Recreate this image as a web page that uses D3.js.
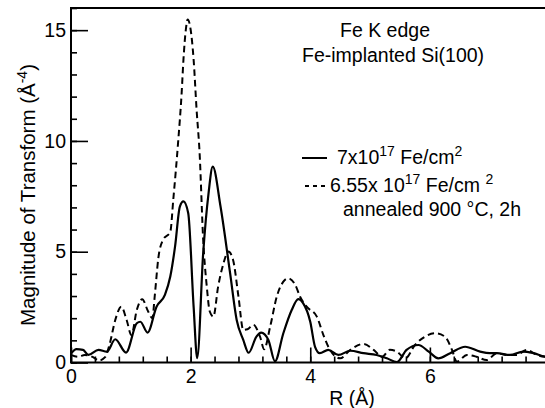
<!DOCTYPE html>
<html>
<head>
<meta charset="utf-8">
<script src="https://cdn.jsdelivr.net/npm/d3@7"></script>
<style>
  body { margin: 0; background: #fff; }
  svg { display: block; font-family: "Liberation Sans", Arial, sans-serif; }
</style>
</head>
<body>
<svg id="chart" width="545" height="408"></svg>
<script>
// R (Å) and magnitude values
const rSolid = [0, 0.09, 0.2, 0.29, 0.46, 0.6, 0.74, 0.92, 1.1, 1.16, 1.28, 1.43, 1.57, 1.66, 1.74, 1.82, 1.88, 1.96,
  2.05, 2.11, 2.21, 2.3, 2.37, 2.5, 2.66, 2.77, 2.88, 2.97, 3.1, 3.18, 3.3, 3.41, 3.55, 3.69, 3.8, 3.88, 4.0,
  4.08, 4.16, 4.3, 4.47, 4.67, 4.89, 5.11, 5.28, 5.45, 5.61, 5.81, 5.98, 6.14, 6.34, 6.59, 6.84, 7.0, 7.12,
  7.34, 7.56, 7.73, 7.93, 8.0];
const vSolid = [0.4, 0.6, 0.57, 0.34, 0.57, 0.49, 1.05, 0.45, 1.77, 1.84, 1.35, 2.52, 3.05, 3.88, 5.24, 7.04, 7.27, 6.74,
  2.52, 0.2, 4.94, 7.65, 8.84, 7.04, 4.03, 1.92, 1.02, 0.44, 1.17, 1.35, 1.02, 0.05, 1.32, 2.37, 2.86, 2.68, 1.84,
  0.71, 0.42, 0.57, 0.34, 0.53, 0.42, 0.34, 0.19, 0.02, 0.57, 0.79, 0.49, 0.19, 0.42, 0.71, 0.49, 0.42, 0.42,
  0.34, 0.49, 0.42, 0.26, 0.25];

const rDashed = [0, 0.12, 0.23, 0.4, 0.46, 0.57, 0.65, 0.74, 0.84, 0.93, 1.01, 1.1, 1.19, 1.29, 1.36, 1.4, 1.46, 1.54,
  1.66, 1.71, 1.79, 1.85, 1.88, 1.92, 1.95, 2.0, 2.05, 2.1, 2.15, 2.21, 2.27, 2.32, 2.38, 2.46, 2.55, 2.63, 2.71,
  2.8, 2.88, 2.95, 3.05, 3.16, 3.23, 3.33, 3.44, 3.55, 3.63, 3.75, 3.83, 3.94, 4.11, 4.22, 4.33, 4.5, 4.67, 4.89,
  5.06, 5.2, 5.33, 5.45, 5.59, 5.75, 5.92, 6.09, 6.25, 6.37, 6.45, 6.62, 6.78, 6.95, 7.12, 7.29, 7.45, 7.62,
  7.79, 7.93, 8.0];
const vDashed = [0.34, 0.26, 0.34, 0.19, 0.08, 0.24, 0.87, 1.92, 2.52, 1.92, 1.24, 2.37, 2.86, 2.3, 2.0, 3.0, 4.71, 5.54,
  5.9, 7.35, 9.91, 12.17, 13.67, 15.03, 15.48, 15.03, 13.67, 11.4, 9.46, 5.54, 3.43, 2.3, 2.07, 3.43, 4.48, 5.01, 4.63,
  2.97, 1.47, 1.5, 1.7, 1.17, 0.6, 1.62, 2.97, 3.65, 3.8, 3.5, 2.97, 2.52, 2.07, 1.24, 0.57, 0.19, 0.57, 0.84,
  0.57, 0.26, 0.57, 0.49, 0.19, 0.79, 1.17, 1.32, 1.17, 0.57, 0.04, 0.34, 0.26, 0.11, 0.42, 0.34, 0.34, 0.57,
  0.34, 0.26, 0.25];

const xMajor = [0, 2, 4, 6];
const yMajor = [0, 5, 10, 15];

const svg = d3.select("#chart");
const m = { left: 71, right: 549.5, top: 8, bottom: 362.5 };

const x = d3.scaleLinear().domain([0, 8]).range([m.left, m.right]);
const y = d3.scaleLinear().domain([0, 16]).range([m.bottom, m.top]);

const font = "Liberation Sans, Arial, sans-serif";

// minor ticks
svg.append("g")
  .attr("transform", `translate(0,${m.bottom})`)
  .call(d3.axisBottom(x).tickValues(d3.range(0, 8.01, 0.4)).tickSize(-6).tickFormat(""))
  .call(g => g.select(".domain").remove());
svg.append("g")
  .attr("transform", `translate(${m.left},0)`)
  .call(d3.axisLeft(y).tickValues(d3.range(0, 16.01, 1)).tickSize(-6).tickFormat(""))
  .call(g => g.select(".domain").remove());

// major ticks with labels
svg.append("g")
  .attr("transform", `translate(0,${m.bottom})`)
  .call(d3.axisBottom(x).tickValues(xMajor).tickSize(-15).tickPadding(7).tickFormat(d3.format("d")))
  .call(g => g.select(".domain").remove())
  .call(g => g.selectAll("text").attr("font-size", 19.5).attr("fill", "#000").style("font-family", font));
svg.append("g")
  .attr("transform", `translate(${m.left},0)`)
  .call(d3.axisLeft(y).tickValues(yMajor).tickSize(-17).tickPadding(5).tickFormat(d3.format("d")))
  .call(g => g.select(".domain").remove())
  .call(g => g.selectAll("text").attr("font-size", 19.5).attr("fill", "#000").style("font-family", font));

svg.selectAll(".tick line").attr("stroke", "#000").attr("stroke-width", 1.6);

// frame: top, left, bottom
svg.append("path")
  .attr("d", `M${m.right},${m.top}H${m.left}V${m.bottom}H${m.right}`)
  .attr("fill", "none").attr("stroke", "#000").attr("stroke-width", 2);

svg.append("clipPath").attr("id", "clip")
  .append("rect").attr("x", m.left).attr("y", m.top)
  .attr("width", m.right - m.left).attr("height", m.bottom - m.top);

const line = d3.line().x(d => x(d[0])).y(d => y(d[1])).curve(d3.curveMonotoneX);

svg.append("path")
  .datum(d3.zip(rDashed, vDashed))
  .attr("clip-path", "url(#clip)")
  .attr("d", line)
  .attr("fill", "none").attr("stroke", "#000").attr("stroke-width", 2)
  .attr("stroke-dasharray", "6.5,4");

svg.append("path")
  .datum(d3.zip(rSolid, vSolid))
  .attr("clip-path", "url(#clip)")
  .attr("d", line)
  .attr("fill", "none").attr("stroke", "#000").attr("stroke-width", 2.2);

// axis titles
svg.append("text")
  .attr("x", 352).attr("y", 405)
  .attr("text-anchor", "middle").attr("font-size", 19.5)
  .text("R (Å)");

const yt = svg.append("text")
  .attr("transform", "translate(35,195) rotate(-90)")
  .attr("text-anchor", "middle").attr("font-size", 20.5);
yt.append("tspan").text("Magnitude of Transform (Å");
yt.append("tspan").attr("font-size", 14).attr("dy", -8).text("-4");
yt.append("tspan").attr("dy", 8).text(")");

// annotations and legend
svg.append("text").attr("x", 340).attr("y", 37).attr("font-size", 19.5).text("Fe K edge");
svg.append("text").attr("x", 302).attr("y", 62).attr("font-size", 19.5).text("Fe-implanted Si(100)");

svg.append("line").attr("x1", 302).attr("x2", 327).attr("y1", 158).attr("y2", 158)
  .attr("stroke", "#000").attr("stroke-width", 2);
const t1 = svg.append("text").attr("x", 337).attr("y", 164).attr("font-size", 19.5);
t1.append("tspan").text("7x10");
t1.append("tspan").attr("font-size", 14).attr("dy", -8).text("17");
t1.append("tspan").attr("dy", 8).text(" Fe/cm");
t1.append("tspan").attr("font-size", 14).attr("dy", -8).text("2");

svg.append("line").attr("x1", 305).attr("x2", 326).attr("y1", 186).attr("y2", 186)
  .attr("stroke", "#000").attr("stroke-width", 2).attr("stroke-dasharray", "4,4");
const t2 = svg.append("text").attr("x", 330).attr("y", 192).attr("font-size", 19.5);
t2.append("tspan").text("6.55x 10");
t2.append("tspan").attr("font-size", 14).attr("dy", -8).text("17");
t2.append("tspan").attr("dy", 8).text(" Fe/cm ");
t2.append("tspan").attr("font-size", 14).attr("dy", -8).text("2");
svg.append("text").attr("x", 343).attr("y", 216).attr("font-size", 19.5).text("annealed 900 °C, 2h");
</script>
</body>
</html>
